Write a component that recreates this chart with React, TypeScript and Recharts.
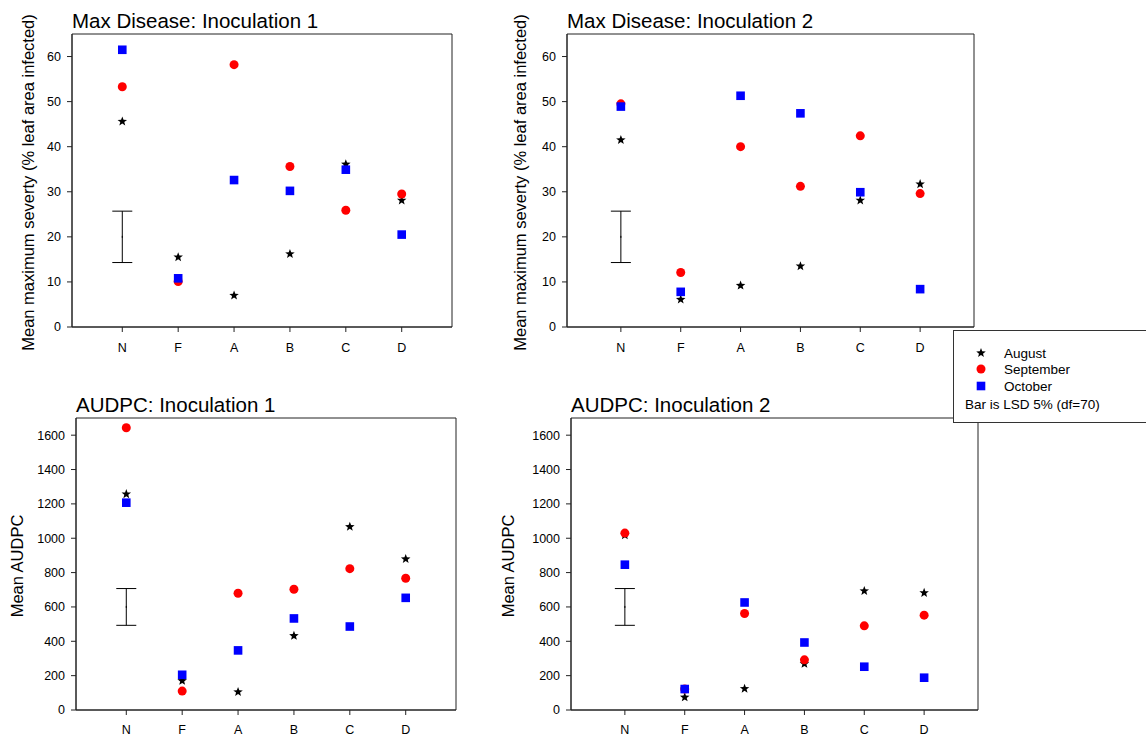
import React from "react";
import {
  ScatterChart,
  Scatter,
  XAxis,
  YAxis,
  ReferenceArea,
  ErrorBar,
} from "recharts";

const cats = ["N", "F", "A", "B", "C", "D"];

const maxAug1 = [45.6, 15.5, 7.0, 16.2, 36.1, 28.1];
const maxSep1 = [53.3, 10.1, 58.2, 35.6, 25.9, 29.5];
const maxOct1 = [61.5, 10.8, 32.6, 30.2, 34.9, 20.5];

const maxAug2 = [41.5, 6.1, 9.2, 13.5, 28.1, 31.7];
const maxSep2 = [49.5, 12.1, 40.0, 31.2, 42.4, 29.6];
const maxOct2 = [48.9, 7.8, 51.3, 47.4, 29.9, 8.4];

const audAug1 = [1257, 170, 105, 432, 1067, 879];
const audSep1 = [1643, 110, 680, 703, 823, 767];
const audOct1 = [1207, 205, 347, 533, 486, 653];

const audAug2 = [1018, 74, 124, 269, 693, 682];
const audSep2 = [1030, 122, 562, 292, 490, 552];
const audOct2 = [846, 122, 626, 393, 252, 188];

// LSD bar: centre and half-length, drawn at N
const maxLsd = [20, 5.7];
const audLsd = [600, 107];

const maxTicks = [0, 10, 20, 30, 40, 50, 60];
const audTicks = [0, 200, 400, 600, 800, 1000, 1200, 1400, 1600];

const FONT = "'Liberation Sans', Arial, sans-serif";
const AXIS_W = 76;
const M_TOP = 30;

const toPoints = (vals: number[]) => vals.map((y, i) => ({ x: i + 1, y }));

function starPath(cx: number, cy: number, r: number) {
  const inner = r * 0.42;
  const pts: string[] = [];
  for (let i = 0; i < 10; i++) {
    const rad = i % 2 === 0 ? r : inner;
    const a = -Math.PI / 2 + (i * Math.PI) / 5;
    pts.push(`${cx + rad * Math.cos(a)},${cy + rad * Math.sin(a)}`);
  }
  return pts.join(" ");
}

const StarShape = (p: any) => <polygon points={starPath(p.cx, p.cy, 5)} fill="#000" />;
const CircleShape = (p: any) => <circle cx={p.cx} cy={p.cy} r={4.5} fill="#ff0000" />;
const SquareShape = (p: any) => (
  <rect x={p.cx - 4.3} y={p.cy - 4.3} width={8.6} height={8.6} fill="#0000ff" />
);
const MidTick = (p: any) => (
  <line x1={p.cx} x2={p.cx} y1={p.cy - 1} y2={p.cy + 1} stroke="#000" />
);

interface PanelProps {
  left: number;
  top: number;
  w: number;
  h: number;
  yMax: number;
  ticks: number[];
  aug: number[];
  sep: number[];
  oct: number[];
  lsd: number[];
  title: string;
  yLabel: string;
  labelX: number;
  xTickMargin: number;
}

function Panel(props: PanelProps) {
  const { left, top, w, h, yMax, ticks, aug, sep, oct, lsd, title, yLabel, labelX, xTickMargin } = props;
  const lsdData = [{ x: 1, y: lsd[0], err: lsd[1] }];
  const labelLocalX = labelX - (left - AXIS_W);
  const labelY = M_TOP + h / 2 + 2;
  return (
    <>
      <div
        style={{
          position: "absolute",
          left: left,
          top: top - 23,
          fontFamily: FONT,
          fontSize: 20.5,
          lineHeight: "20px",
          color: "#000",
          whiteSpace: "nowrap",
        }}
      >
        {title}
      </div>
      <div style={{ position: "absolute", left: left - AXIS_W, top: top - M_TOP }}>
        <ScatterChart
          width={AXIS_W + w + 3}
          height={h + M_TOP + 40}
          margin={{ top: M_TOP, right: 3, left: 0, bottom: 0 }}
        >
          <XAxis
            type="number"
            dataKey="x"
            domain={[0.1, 6.9]}
            ticks={[1, 2, 3, 4, 5, 6]}
            tickFormatter={(v: number) => cats[v - 1]}
            allowDataOverflow
            height={40}
            tickSize={5}
            tickMargin={xTickMargin}
            stroke="#222"
            tick={{ fill: "#000", fontSize: 12.5, fontFamily: FONT }}
          />
          <YAxis
            type="number"
            dataKey="y"
            domain={[0, yMax]}
            ticks={ticks}
            allowDataOverflow
            width={AXIS_W}
            tickSize={5}
            tickMargin={6}
            stroke="#222"
            tick={{ fill: "#000", fontSize: 12.5, fontFamily: FONT }}
            label={{
              content: () => (
                <text
                  x={labelLocalX}
                  y={labelY}
                  transform={`rotate(-90, ${labelLocalX}, ${labelY})`}
                  textAnchor="middle"
                  dominantBaseline="central"
                  fontFamily={FONT}
                  fontSize={16.5}
                  fill="#000"
                >
                  {yLabel}
                </text>
              ),
            }}
          />
          <ReferenceArea x1={0.1} x2={6.9} y1={0} y2={yMax} fill="none" stroke="#222" strokeWidth={1} />
          <Scatter data={lsdData} shape={MidTick} isAnimationActive={false}>
            <ErrorBar dataKey="err" direction="y" width={10} stroke="#000" strokeWidth={1} />
          </Scatter>
          <Scatter data={toPoints(aug)} shape={StarShape} isAnimationActive={false} />
          <Scatter data={toPoints(sep)} shape={CircleShape} isAnimationActive={false} />
          <Scatter data={toPoints(oct)} shape={SquareShape} isAnimationActive={false} />
        </ScatterChart>
      </div>
    </>
  );
}

function LegendBox() {
  return (
    <div
      style={{
        position: "absolute",
        left: 953,
        top: 330,
        width: 200,
        height: 91,
        border: "1px solid #333",
        background: "#fff",
      }}
    >
      <svg width={200} height={91} style={{ display: "block" }}>
        <StarShape cx={27} cy={22} />
        <CircleShape cx={27} cy={38} />
        <SquareShape cx={27} cy={55} />
        <g fontFamily={FONT} fontSize={13.5} fill="#000">
          <text x={50} y={27}>August</text>
          <text x={50} y={43}>September</text>
          <text x={50} y={60}>October</text>
          <text x={11} y={78}>Bar is LSD 5% (df=70)</text>
        </g>
      </svg>
    </div>
  );
}

export default function App() {
  return (
    <div style={{ position: "absolute", left: 0, top: 0, width: 1146, height: 738, background: "#fff", overflow: "hidden" }}>
      <Panel
        left={72} top={34} w={380} h={293} yMax={65} ticks={maxTicks}
        aug={maxAug1} sep={maxSep1} oct={maxOct1} lsd={maxLsd}
        title="Max Disease: Inoculation 1"
        yLabel="Mean maximum severty (% leaf area infected)"
        labelX={28} xTickMargin={11}
      />
      <Panel
        left={567} top={34} w={407} h={293} yMax={65} ticks={maxTicks}
        aug={maxAug2} sep={maxSep2} oct={maxOct2} lsd={maxLsd}
        title="Max Disease: Inoculation 2"
        yLabel="Mean maximum severty (% leaf area infected)"
        labelX={520} xTickMargin={11}
      />
      <Panel
        left={76} top={418} w={380} h={292} yMax={1700} ticks={audTicks}
        aug={audAug1} sep={audSep1} oct={audOct1} lsd={audLsd}
        title="AUDPC: Inoculation 1"
        yLabel="Mean AUDPC"
        labelX={17} xTickMargin={10}
      />
      <Panel
        left={571} top={418} w={407} h={292} yMax={1700} ticks={audTicks}
        aug={audAug2} sep={audSep2} oct={audOct2} lsd={audLsd}
        title="AUDPC: Inoculation 2"
        yLabel="Mean AUDPC"
        labelX={508} xTickMargin={10}
      />
      <LegendBox />
    </div>
  );
}
